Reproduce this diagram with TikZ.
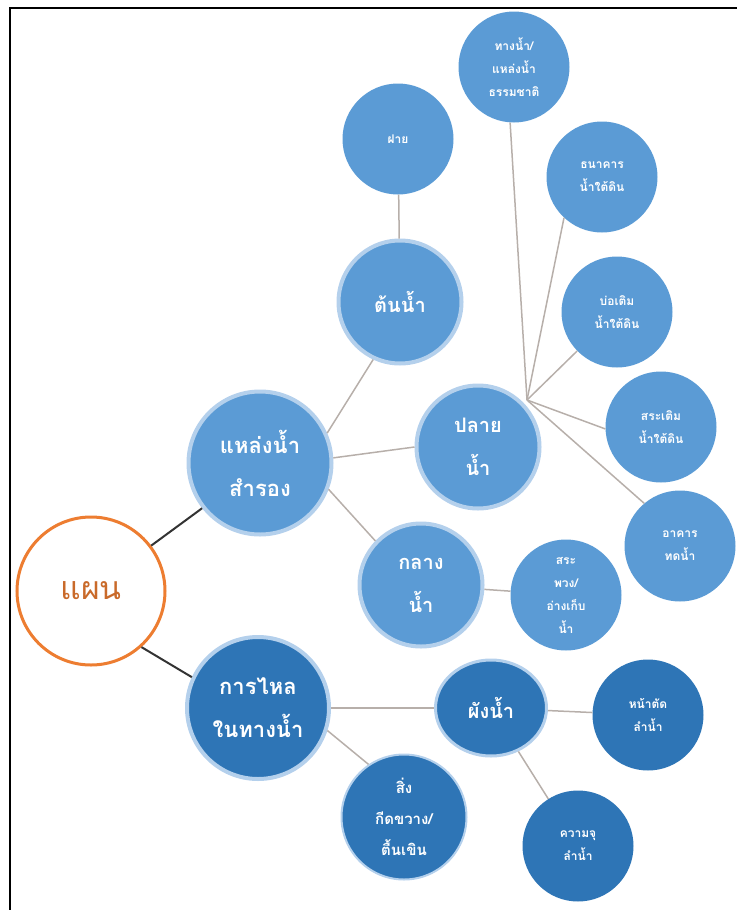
\documentclass[tikz,border=0pt]{standalone}
\usepackage{fontspec}
\newfontfamily\thaifont[Script=Thai]{Loma}
\usepackage{tikz}
\usetikzlibrary{positioning,shapes.geometric}

\definecolor{lightblue}{HTML}{5B9BD5}
\definecolor{darkblue}{HTML}{2E75B6}
\definecolor{ringblue}{HTML}{B4D0EC}
\definecolor{planorange}{HTML}{ED7D31}
\definecolor{linkgray}{HTML}{B7AFAA}

\begin{document}
\begin{tikzpicture}[
  x=1pt, y=-1pt,
  font=\thaifont,
  plan/.style={circle, draw=planorange, line width=3pt, fill=white, text=planorange!85!black, minimum size=148pt, font=\thaifont\fontsize{32}{36}\selectfont},
  main/.style={circle, fill=lightblue, draw=ringblue, line width=4pt, text=white, align=center, inner sep=0pt, font=\thaifont\bfseries\fontsize{20}{43}\selectfont},
  top/.style={font=\thaifont\bfseries\fontsize{22}{43}\selectfont},
  leaf/.style={circle, fill=lightblue, text=white, align=center, inner sep=0pt, minimum size=111pt, font=\thaifont\bfseries\fontsize{12}{23}\selectfont},
  dark/.style={fill=darkblue},
  link/.style={draw=linkgray, line width=1.5pt},
  planlink/.style={draw=black!80, line width=2pt}
]
\useasboundingbox (0,0) rectangle (737,910);
\draw[line width=2pt] (10,910) -- (10,8) -- (737,8);

\node[plan] (plan) at (91,591) {แผน};
\node[main, top, minimum size=143pt] (reserve) at (260,463) {แหล่งน้ำ\\สำรอง};
\node[main, top, dark, minimum size=142pt] (flow) at (258,708) {การไหล\\ในทางน้ำ};

\node[main, minimum size=123pt] (upstream) at (400,302) {ต้นน้ำ};
\node[main, minimum size=123pt] (downstream) at (478,447) {ปลาย\\น้ำ};
\node[main, minimum size=123pt] (midstream) at (421,585) {กลาง\\น้ำ};
\node[main, dark, ellipse, line width=3pt, minimum width=111pt, minimum height=96pt] (waterplan) at (491,708) {ผังน้ำ};
\node[main, dark, line width=2pt, minimum size=125pt, font=\thaifont\bfseries\fontsize{15}{31}\selectfont] (obstacle) at (404,817) {สิ่ง\\กีดขวาง/\\ตื้นเขิน};

\node[leaf] (weir) at (398,139) {ฝาย};
\node[leaf] (natural) at (514,67) {ทางน้ำ/\\แหล่งน้ำ\\ธรรมชาติ};
\node[leaf] (gwbank) at (602,177) {ธนาคาร\\น้ำใต้ดิน};
\node[leaf] (well) at (617,312) {บ่อเติม\\น้ำใต้ดิน};
\node[leaf] (pond) at (661,427) {สระเติม\\น้ำใต้ดิน};
\node[leaf] (weirhouse) at (680,546) {อาคาร\\ทดน้ำ};
\node[leaf] (pondchain) at (566,595) {สระ\\พวง/\\อ่างเก็บ\\น้ำ};
\node[leaf, dark] (section) at (648,715) {หน้าตัด\\ลำน้ำ};
\node[leaf, dark] (capacity) at (578,846) {ความจุ\\ลำน้ำ};

\coordinate (fan) at (527,400);

\draw[planlink] (plan.37) -- (reserve.218);
\draw[planlink] (plan.312) -- (flow.155);
\draw[link] (reserve.24) -- (upstream.245);
\draw[link] (reserve.4) -- (downstream.180);
\draw[link] (reserve.339) -- (midstream.136);
\draw[link] (upstream) -- (weir);
\draw[link] (fan) -- (natural.266);
\draw[link] (fan) -- (gwbank.227);
\draw[link] (fan) -- (well);
\draw[link] (fan) -- (pond.182);
\draw[link] (fan) -- (weirhouse.130);
\draw[link] (midstream) -- (pondchain);
\draw[link] (flow) -- (waterplan);
\draw[link] (flow.342) -- (obstacle.124);
\draw[link] (waterplan) -- (section);
\draw[link] (waterplan) -- (capacity);
\end{tikzpicture}
\end{document}
